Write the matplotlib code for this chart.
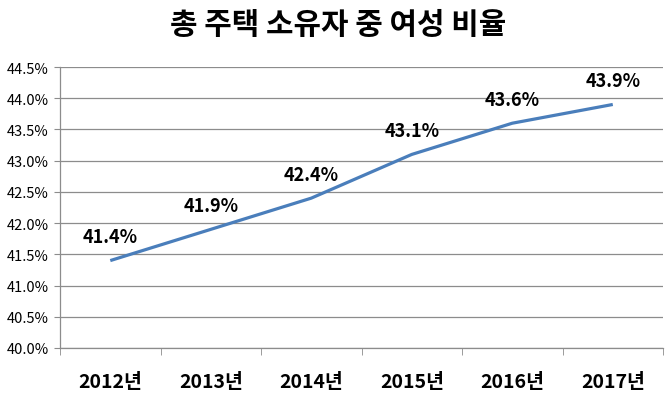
import numpy as np
import matplotlib.pyplot as plt
from matplotlib.ticker import FuncFormatter, FixedLocator

plt.rcParams['font.family'] = ['Noto Sans CJK KR', 'DejaVu Sans']

# 데이터
years = ['2012년', '2013년', '2014년', '2015년', '2016년', '2017년']
ratio = [41.4, 41.9, 42.4, 43.1, 43.6, 43.9]

fig = plt.figure(figsize=(6.7, 4.06), dpi=100)
ax = fig.add_axes([0.0896, 0.1404, 0.9, 0.6921])

x = np.arange(len(years))
ax.plot(x, ratio, color='#4A7EBB', linewidth=2.3, solid_capstyle='butt')

# 데이터 레이블
for xi, v in zip(x, ratio):
    ax.annotate('{:.1f}%'.format(v), (xi, v), xytext=(0, 17), textcoords='offset points',
                ha='center', va='center', fontsize=13, fontweight='bold', color='black')

ax.set_xlim(-0.5, len(years) - 0.5)
ax.set_ylim(40.0, 44.5)
ax.set_yticks(np.arange(40.0, 44.51, 0.5))
ax.yaxis.set_major_formatter(FuncFormatter(lambda v, p: '{:.1f}%'.format(v)))
ax.grid(axis='y', color='#8c8c8c', linewidth=0.9)
ax.set_axisbelow(True)

ax.set_xticks(x)
ax.set_xticklabels(years, fontsize=14, fontweight='bold')
ax.xaxis.set_minor_locator(FixedLocator(np.arange(-0.5, len(years), 1.0)))
ax.tick_params(axis='x', which='major', length=0, pad=17)
ax.tick_params(axis='x', which='minor', length=5, color='#8c8c8c')
ax.tick_params(axis='y', length=4, color='#8c8c8c', labelsize=10.5, pad=4)

for s in ['top', 'right']:
    ax.spines[s].set_visible(False)
for s in ['left', 'bottom']:
    ax.spines[s].set_color('#8c8c8c')
    ax.spines[s].set_linewidth(0.9)

fig.suptitle('총 주택 소유자 중 여성 비율', x=0.505, y=0.975, fontsize=21.5, fontweight='bold')

plt.savefig('out.png', dpi=100)
